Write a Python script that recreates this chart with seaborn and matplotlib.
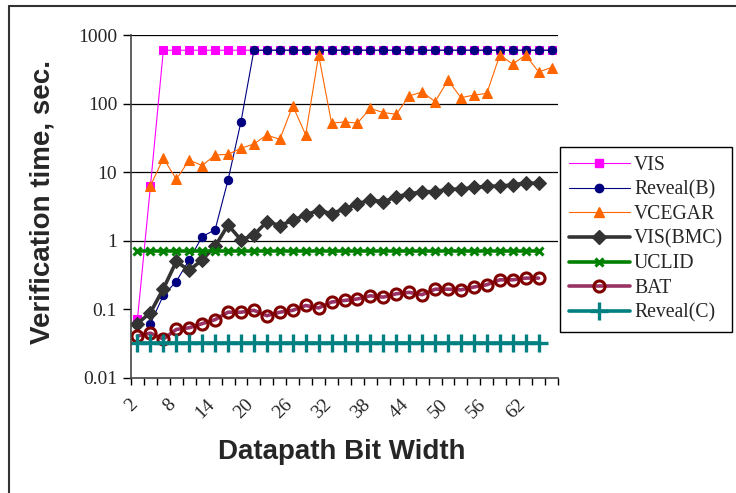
import numpy as np
import pandas as pd
import matplotlib
matplotlib.use("Agg")
import matplotlib.pyplot as plt
import matplotlib.transforms as mtransforms
import seaborn as sns
from matplotlib.lines import Line2D
from matplotlib.ticker import FixedLocator, FixedFormatter, NullLocator

nan = np.nan

# Categorias del eje x (ancho de bits)
bit_width = [2, 4, 6, 8, 10, 12, 14, 16, 18, 20, 22, 24, 26, 28, 30, 32, 34,
             36, 38, 40, 42, 44, 46, 48, 50, 52, 54, 56, 58, 60, 62, 64, 66]
tick_labels = ["2", "8", "14", "20", "26", "32", "38", "44", "50", "56", "62"]
y_ticks = [0.01, 0.1, 1, 10, 100, 1000]
y_tick_labels = ["0.01", "0.1", "1", "10", "100", "1000"]

# Tiempos de verificacion (seg.)
vis = [0.072, 6.2, 600, 600, 600, 600, 600, 600, 600, 600, 600, 600, 600, 600,
       600, 600, 600, 600, 600, 600, 600, 600, 600, 600, 600, 600, 600, 600,
       600, 600, 600, 600, 600]
reveal_b = [nan, 0.062, 0.16, 0.255, 0.53, 1.15, 1.45, 7.7, 54.5, 600, 600,
            600, 600, 600, 600, 600, 600, 600, 600, 600, 600, 600, 600, 600,
            600, 600, 600, 600, 600, 600, 600, 600, 600]
vcegar = [nan, 6.3, 16, 7.9, 15, 12.5, 17.8, 18.2, 22.3, 25.8, 35, 30, 93, 35,
          510, 52, 54, 52, 85, 74, 70, 129, 148, 107, 219, 122, 133, 141, 510,
          377, 510, 290, 335]
vis_bmc = [0.062, 0.09, 0.2, 0.5, 0.37, 0.53, 0.83, 1.7, 1.03, 1.22, 1.9, 1.67,
           1.98, 2.4, 2.76, 2.5, 2.9, 3.45, 3.95, 3.7, 4.4, 4.8, 5.2, 5.2, 5.65,
           5.65, 6.0, 6.2, 6.3, 6.5, 7.0, 6.85]
uclid = [0.72, 0.72, 0.72, 0.72, 0.72, 0.72, 0.72, 0.72, 0.72, 0.72, 0.72,
         0.72, 0.72, 0.72, 0.72, 0.72, 0.72, 0.72, 0.72, 0.72, 0.72, 0.72,
         0.72, 0.72, 0.72, 0.72, 0.72, 0.72, 0.72, 0.72, 0.72, 0.72]
bat = [0.041, 0.045, 0.037, 0.051, 0.054, 0.062, 0.071, 0.091, 0.091, 0.097,
       0.081, 0.091, 0.097, 0.114, 0.105, 0.128, 0.135, 0.142, 0.158, 0.151,
       0.169, 0.177, 0.164, 0.197, 0.197, 0.193, 0.212, 0.229, 0.27, 0.27,
       0.286, 0.286]
reveal_c = [0.032, 0.032, 0.032, 0.032, 0.032, 0.032, 0.032, 0.032, 0.032,
            0.032, 0.032, 0.032, 0.032, 0.032, 0.032, 0.032, 0.032, 0.032,
            0.032, 0.032, 0.032, 0.032, 0.032, 0.032, 0.032, 0.032, 0.032,
            0.032, 0.032, 0.032, 0.032, 0.032]

# estilo de cada serie (estilo Excel)
estilos = [
    ("VIS", vis, dict(color="#FF00FF", marker="s", markersize=6, linewidth=0.8,
                      markeredgecolor="#FF00FF")),
    ("Reveal(B)", reveal_b, dict(color="#000080", marker="o", markersize=6,
                                 linewidth=0.8, markeredgecolor="#000080")),
    ("VCEGAR", vcegar, dict(color="#FF6600", marker="^", markersize=7.5,
                            linewidth=0.8, markeredgecolor="#FF6600")),
    ("VIS(BMC)", vis_bmc, dict(color="#333333", marker="D", markersize=7.5,
                               linewidth=2.6, markeredgecolor="#333333")),
    ("UCLID", uclid, dict(color="#008000", marker="x", markersize=6,
                          linewidth=2.6, markeredgewidth=2.2,
                          markeredgecolor="#008000")),
    ("BAT", bat, dict(color="#993366", marker="o", markersize=8, linewidth=2.6,
                      markeredgewidth=2.2, markeredgecolor="#800000",
                      markerfacecolor="none")),
    ("Reveal(C)", reveal_c, dict(color="#008080", marker="+", markersize=13,
                                 linewidth=2.6, markeredgewidth=2.4,
                                 markeredgecolor="#008080")),
]

sns.set_theme(style="white")
plt.rcParams["font.family"] = ["Liberation Serif", "DejaVu Serif"]
fuente_ejes = ["Liberation Sans", "DejaVu Sans"]

fig = plt.figure(figsize=(7.36, 4.93), dpi=100)
ax = fig.add_axes([131 / 736, 1 - 378 / 493, 427 / 736, 343 / 493])

handles = []
for nombre, valores, kw in estilos:
    df = pd.DataFrame({"pos": np.arange(len(valores)), "t": valores}).dropna()
    sns.lineplot(data=df, x="pos", y="t", ax=ax, estimator=None, sort=False,
                 legend=False, **kw)
    handles.append(Line2D([], [], label=nombre, **kw))

ax.set_yscale("log")
ax.set_ylim(0.01, 1000)
ax.set_xlim(-0.5, len(bit_width) - 0.5)

ax.yaxis.set_major_locator(FixedLocator(y_ticks))
ax.yaxis.set_major_formatter(FixedFormatter(y_tick_labels))
ax.yaxis.set_minor_locator(NullLocator())
ax.tick_params(axis="y", which="major", direction="out", length=6, width=1,
               color="black", labelsize=14, pad=4, left=True)

pos_labels = [bit_width.index(int(t)) for t in tick_labels]
ax.set_xticks(pos_labels)
ax.set_xticklabels(tick_labels, rotation=45, ha="right", rotation_mode="anchor")
ax.set_xticks(np.arange(-0.5, len(bit_width)), minor=True)
ax.tick_params(axis="x", which="major", length=0, labelsize=14, pad=13)
ax.tick_params(axis="x", which="minor", direction="out", length=5, width=1,
               color="black", bottom=True)
# correr las etiquetas rotadas un poco a la izquierda, como en Excel
desplazamiento = mtransforms.ScaledTranslation(-9 / 100, 0, fig.dpi_scale_trans)
for etiqueta in ax.get_xticklabels():
    etiqueta.set_transform(etiqueta.get_transform() + desplazamiento)

# lineas de cuadricula (sin la de arriba)
ax.grid(axis="y", which="major", color="black", linewidth=0.9)
ax.grid(axis="x", visible=False)
for tick in ax.yaxis.get_major_ticks():
    if tick.get_loc() >= 1000 or tick.get_loc() <= 0.01:
        tick.gridline.set_visible(False)

for lado in ["top", "right"]:
    ax.spines[lado].set_visible(False)
for lado in ["left", "bottom"]:
    ax.spines[lado].set_color("#444444")
    ax.spines[lado].set_linewidth(1.2)

ax.set_xlabel("Datapath Bit Width", family=fuente_ejes, fontsize=20,
              fontweight="bold", va="center")
ax.set_ylabel("Verification time, sec.", family=fuente_ejes, fontsize=20,
              fontweight="bold", va="center")
ax.xaxis.set_label_coords((342 - 131) / 427, (378 - 452) / 343)
ax.yaxis.set_label_coords((43 - 131) / 427, (378 - 202) / 343)

leg = ax.legend(handles=handles, loc="upper left",
                bbox_to_anchor=(560 / 736, 1 - 147 / 493),
                bbox_transform=fig.transFigure, fontsize=14.2, frameon=True,
                fancybox=False, edgecolor="black", framealpha=1,
                handlelength=3.1, handletextpad=0.2, labelspacing=0.28,
                borderpad=0.45, borderaxespad=0, numpoints=1)
leg.get_frame().set_linewidth(1.0)

# marco exterior de la figura (izquierda y arriba)
fig.add_artist(Line2D([9 / 736, 9 / 736], [0, 1 - 6 / 493],
                      transform=fig.transFigure, color="#333333", lw=1.5))
fig.add_artist(Line2D([9 / 736, 1], [1 - 6 / 493, 1 - 6 / 493],
                      transform=fig.transFigure, color="#333333", lw=1.5))

fig.savefig("out.png", dpi=100)
